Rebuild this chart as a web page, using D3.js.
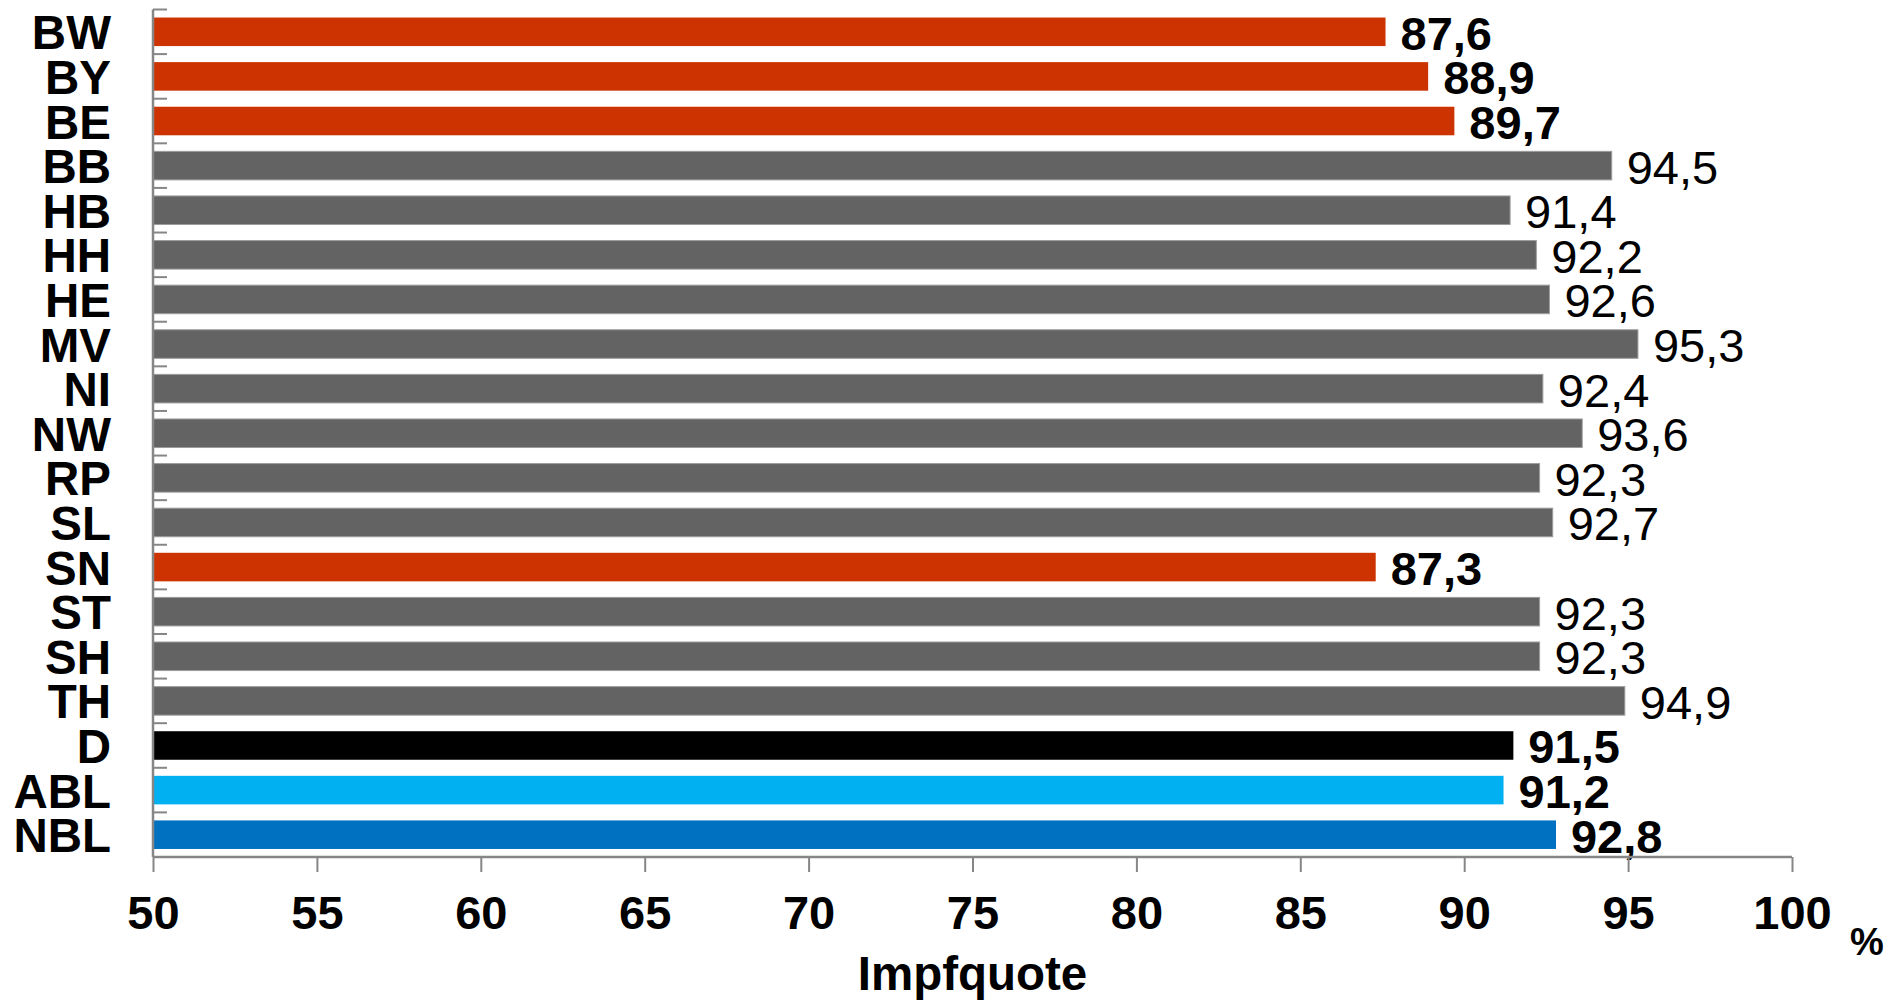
<!DOCTYPE html>
<html>
<head>
<meta charset="utf-8">
<script src="https://cdn.jsdelivr.net/npm/d3@7"></script>
<style>
  html, body { margin: 0; padding: 0; background: #fff; }
  svg { display: block; font-family: "Liberation Sans", Arial, sans-serif; }
</style>
</head>
<body>
<svg id="chart" width="1901" height="1001"></svg>
<script>
// Impfquote je Bundesland (in %)
const categories = ["BW", "BY", "BE", "BB", "HB", "HH", "HE", "MV", "NI", "NW",
                    "RP", "SL", "SN", "ST", "SH", "TH", "D", "ABL", "NBL"];
const values = [87.6, 88.9, 89.7, 94.5, 91.4, 92.2, 92.6, 95.3, 92.4, 93.6,
                92.3, 92.7, 87.3, 92.3, 92.3, 94.9, 91.5, 91.2, 92.8];
// Gruppen steuern Farbe und Schriftstärke der Wertbeschriftung
const groups = ["low", "low", "low", "mid", "mid", "mid", "mid", "mid", "mid", "mid",
                "mid", "mid", "low", "mid", "mid", "mid", "de", "abl", "nbl"];
const xTicks = [50, 55, 60, 65, 70, 75, 80, 85, 90, 95, 100];

const colors = { low: "#CC3300", mid: "#636363", de: "#000000", abl: "#00B0F0", nbl: "#0070C0" };
const boldLabel = { low: true, mid: false, de: true, abl: true, nbl: true };

const svg = d3.select("#chart");
const plotLeft = 153, plotRight = 1792, plotTop = 9.5, plotBottom = 857;

const x = d3.scaleLinear().domain([50, 100]).range([plotLeft, plotRight]);
const y = d3.scaleBand().domain(categories).range([plotTop, plotBottom])
  .paddingInner(0.36).paddingOuter(0.18);

const data = categories.map((c, i) => ({ cat: c, value: values[i], group: groups[i] }));

// Balken
svg.append("g").selectAll("rect").data(data).join("rect")
  .attr("x", x(50))
  .attr("y", d => y(d.cat))
  .attr("width", d => x(d.value) - x(50))
  .attr("height", y.bandwidth())
  .attr("fill", d => colors[d.group])
  .attr("stroke", d => d.group === "mid" ? "#9c9c9c" : "none")
  .attr("stroke-width", 1);

// Wertbeschriftungen
svg.append("g").selectAll("text").data(data).join("text")
  .attr("x", d => x(d.value) + 15)
  .attr("y", d => y(d.cat) + y.bandwidth() / 2 + 1.5)
  .attr("dominant-baseline", "central")
  .attr("font-size", 47)
  .attr("font-weight", d => boldLabel[d.group] ? "bold" : "normal")
  .attr("fill", "#000")
  .text(d => d3.format(".1f")(d.value).replace(".", ","));

// Kategorienachse (Striche zwischen den Bändern, nach innen)
const step = y.step();
const yAxis = svg.append("g");
yAxis.append("line")
  .attr("x1", plotLeft).attr("x2", plotLeft)
  .attr("y1", plotTop).attr("y2", plotBottom)
  .attr("stroke", "#868686").attr("stroke-width", 2.5);
yAxis.selectAll("line.tick").data(d3.range(categories.length + 1)).join("line")
  .attr("class", "tick")
  .attr("x1", plotLeft).attr("x2", plotLeft + 14)
  .attr("y1", i => plotTop + i * step).attr("y2", i => plotTop + i * step)
  .attr("stroke", "#868686").attr("stroke-width", 2);
yAxis.selectAll("text").data(categories).join("text")
  .attr("x", 111)
  .attr("y", d => y(d) + y.bandwidth() / 2 + 1)
  .attr("dominant-baseline", "central")
  .attr("text-anchor", "end")
  .attr("font-size", 47.5)
  .attr("font-weight", "bold")
  .text(d => d);

// Werteachse
const xAxis = svg.append("g")
  .attr("transform", `translate(0,${plotBottom})`)
  .call(d3.axisBottom(x).tickValues(xTicks).tickSize(15).tickPadding(24)
    .tickFormat(d3.format("d")));
xAxis.select(".domain").attr("stroke", "#868686").attr("stroke-width", 2.5)
  .attr("d", `M${plotLeft},0H${plotRight}`);
xAxis.selectAll(".tick line").attr("stroke", "#868686").attr("stroke-width", 2);
xAxis.selectAll(".tick text")
  .attr("font-family", "'Liberation Sans', Arial, sans-serif")
  .attr("font-size", 47)
  .attr("font-weight", "bold")
  .attr("fill", "#000");

// Achsentitel und Einheit
svg.append("text")
  .attr("x", (plotLeft + plotRight) / 2).attr("y", 990)
  .attr("text-anchor", "middle")
  .attr("font-size", 47.5).attr("font-weight", "bold")
  .text("Impfquote");
svg.append("text")
  .attr("x", 1850).attr("y", 955)
  .attr("font-size", 38).attr("font-weight", "bold")
  .text("%");
</script>
</body>
</html>
